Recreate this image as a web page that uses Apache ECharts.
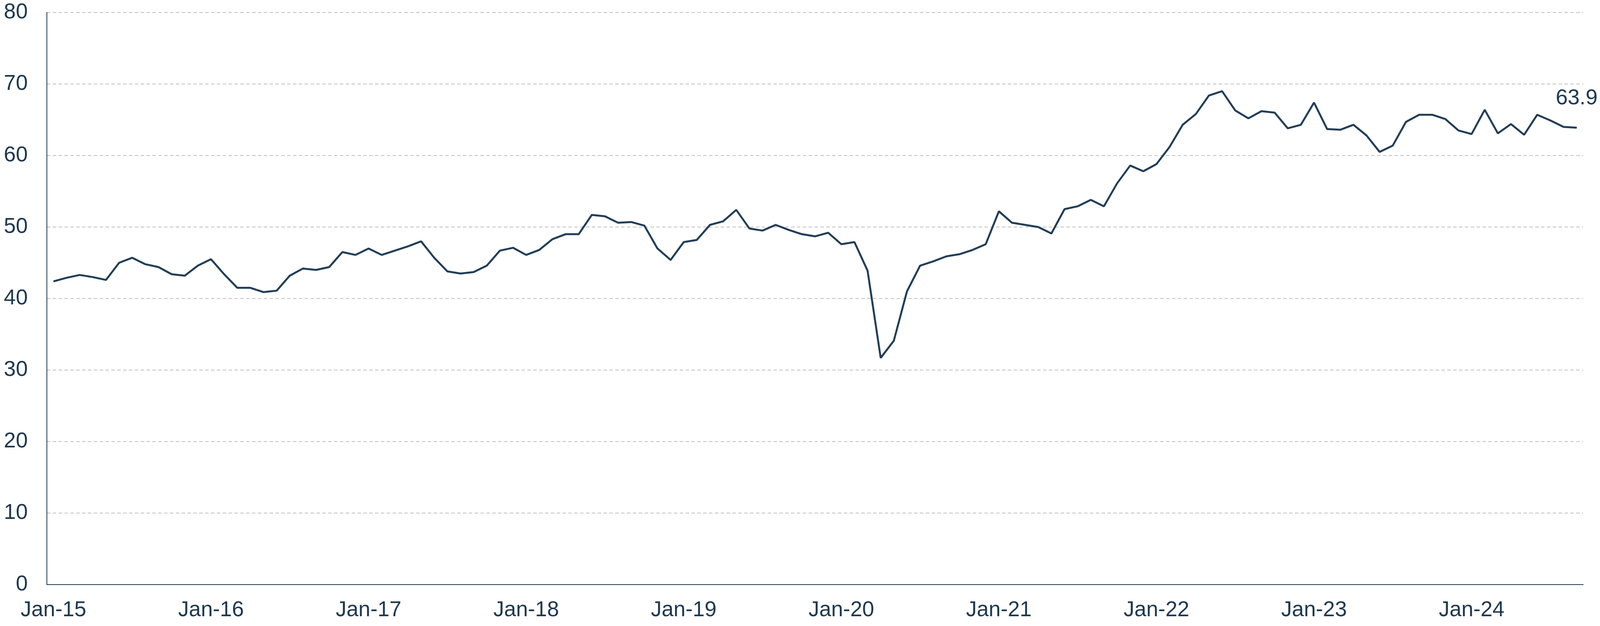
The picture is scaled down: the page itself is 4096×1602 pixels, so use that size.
<!DOCTYPE html>
<html lang="en">
<head>
    <meta charset="UTF-8">
    <title>Index</title>
    <script src="https://cdn.jsdelivr.net/npm/echarts@6/dist/echarts.min.js"></script>
    <style>
        html, body { margin: 0; padding: 0; background: #fff; }
        #main { width: 4096px; height: 1602px; }
    </style>
</head>
<body>
<div id="main"></div>
<script type="text/javascript">
// monthly readings, Jan-15 .. Sep-24
var years = ['15', '16', '17', '18', '19', '20', '21', '22', '23', '24'];
var monthNames = ['Jan', 'Feb', 'Mar', 'Apr', 'May', 'Jun', 'Jul', 'Aug', 'Sep', 'Oct', 'Nov', 'Dec'];
var values = [
    42.4, 42.9, 43.3, 43.0, 42.6, 45.0, 45.7, 44.8, 44.4, 43.4, 43.2, 44.6,
    45.5, 43.4, 41.5, 41.5, 40.9, 41.1, 43.2, 44.2, 44.0, 44.4, 46.5, 46.1,
    47.0, 46.1, 46.7, 47.3, 48.0, 45.7, 43.8, 43.5, 43.7, 44.6, 46.7, 47.1,
    46.1, 46.8, 48.3, 49.0, 49.0, 51.7, 51.5, 50.6, 50.7, 50.2, 47.0, 45.4,
    47.9, 48.2, 50.3, 50.8, 52.4, 49.8, 49.5, 50.3, 49.6, 49.0, 48.7, 49.2,
    47.6, 47.9, 43.9, 31.7, 34.1, 41.0, 44.6, 45.2, 45.9, 46.2, 46.8, 47.6,
    52.2, 50.6, 50.3, 50.0, 49.1, 52.5, 52.9, 53.8, 52.9, 56.1, 58.6, 57.8,
    58.8, 61.2, 64.3, 65.8, 68.4, 69.0, 66.3, 65.2, 66.2, 66.0, 63.8, 64.3,
    67.4, 63.7, 63.6, 64.3, 62.8, 60.5, 61.4, 64.7, 65.7, 65.7, 65.1, 63.5,
    63.0, 66.4, 63.1, 64.4, 62.9, 65.7, 64.9, 64.0, 63.9
];
var yTicks = [0, 10, 20, 30, 40, 50, 60, 70, 80];

var navy = '#1e3950';
var fontName = 'Liberation Sans, Arial, sans-serif';

var categories = [];
for (var i = 0; i < years.length; i++) {
    for (var j = 0; j < monthNames.length; j++) {
        if (categories.length < values.length) {
            categories.push(monthNames[j] + '-' + years[i]);
        }
    }
}

// only the last point carries a label
var seriesData = [];
for (var k = 0; k < values.length; k++) {
    if (k == values.length - 1) {
        seriesData.push({value: values[k], label: {show: true}});
    } else {
        seriesData.push(values[k]);
    }
}

var myChart = echarts.init(document.getElementById('main'));
var option = {
    animation: false,
    backgroundColor: '#ffffff',
    grid: {
        left: 120,
        right: 43,
        top: 32,
        bottom: 106,
        containLabel: false
    },
    xAxis: {
        type: 'category',
        data: categories,
        boundaryGap: true,
        axisLine: {show: true, lineStyle: {color: navy, width: 2}},
        axisTick: {show: false},
        axisLabel: {
            interval: 11,
            fontSize: 55,
            fontFamily: fontName,
            color: navy,
            margin: 38
        },
        splitLine: {show: false}
    },
    yAxis: {
        type: 'value',
        min: yTicks[0],
        max: yTicks[yTicks.length - 1],
        interval: 10,
        axisLine: {show: true, lineStyle: {color: navy, width: 2}},
        axisTick: {show: false},
        axisLabel: {
            fontSize: 55,
            fontFamily: fontName,
            color: navy,
            margin: 49
        },
        splitLine: {
            show: true,
            lineStyle: {color: '#c0c0c0', width: 2, type: [9, 6]}
        }
    },
    series: [{
        type: 'line',
        data: seriesData,
        symbol: 'circle',
        symbolSize: 0,
        showSymbol: true,
        lineStyle: {color: navy, width: 5},
        itemStyle: {color: navy},
        label: {
            show: false,
            position: 'top',
            distance: 46,
            fontSize: 55,
            fontFamily: fontName,
            color: navy
        }
    }]
};
myChart.setOption(option);
</script>
</body>
</html>
